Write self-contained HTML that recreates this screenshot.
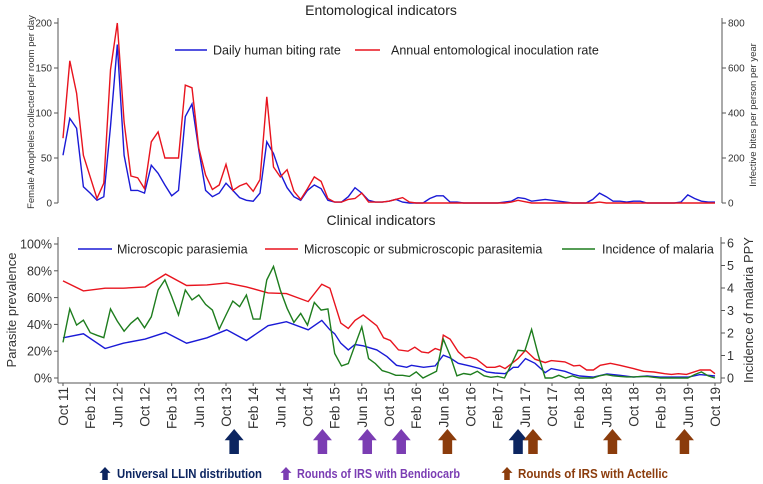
<!DOCTYPE html>
<html><head><meta charset="utf-8">
<style>
html,body{margin:0;padding:0;background:#fff;}
svg{display:block;font-family:"Liberation Sans",sans-serif;}
</style></head>
<body>
<svg id="chart" width="763" height="484" viewBox="0 0 763 484" xmlns="http://www.w3.org/2000/svg"></svg>
<script>
// ---- data ----
const xTickLabels = ["Oct 11","Feb 12","Jun 12","Oct 12","Feb 13","Jun 13","Oct 13","Feb 14","Jun 14","Oct 14","Feb 15","Jun 15","Oct 15","Feb 16","Jun 16","Oct 16","Feb 17","Jun 17","Oct 17","Feb 18","Jun 18","Oct 18","Feb 19","Jun 19","Oct 19"];
const hbr = [53,94,83,18,11,3,7,85,176,53,14,14,11,42,33,20,8,14,96,110,59,14,7,11,22,14,6,3,2,11,68,55,33,17,7,3,14,20,16,3,1,1,7,17,11,3,1,1,2,4,1,0,0,0,5,8,8,1,1,0,0,0,0,0,0,1,2,6,5,2,3,4,3,2,1,0,0,0,4,11,7,2,2,1,2,2,0,0,0,0,0,1,9,5,2,1,1];
const eir = [288,632,488,212,116,20,88,592,800,360,120,112,64,272,316,200,200,200,524,512,244,124,60,80,172,56,76,88,52,104,472,160,116,148,52,16,64,116,96,20,4,4,16,20,44,4,4,4,8,16,24,4,0,0,0,0,0,0,0,0,0,0,0,0,0,0,4,12,6,0,0,0,0,0,0,0,0,0,0,4,0,0,0,0,0,0,0,0,0,0,0,0,0,0,0,0,0];
const microMonths = [0,3,6.2,8.9,12.1,15.1,18.2,21.2,24.1,27,30.2,32.9,36.1,38.1,39.3,40,40.9,42,43,44.2,46.2,47.7,49.1,50.6,51.3,53.1,54.8,56,57,58.2,59.9,61.4,62.4,63.6,65.1,66.3,67,68.1,69.5,71,71.9,73.9,75.2,76.1,78.1,80.1,82,84,86,87.9,92.1,93.8,96];
const microPct = [30,33,22,26,29,34,26,30,36,28,39,42,36,43,36,33,26,21,25,24,21,16,9.5,8,9.5,8,9,17,15,11,9,7,4.5,3.7,3.2,8,8,14.5,11,4,7,5,2.5,1.5,0.7,3,2,0.7,1.5,0.7,0.7,2.5,1.5];
const subMonths = [0,3,6.2,8.9,12.1,15.1,18.2,21.2,24.1,27,30.2,32.9,36.1,38.1,39.3,40.9,42,43,44.2,46.2,47.2,48.2,49.4,50.8,51.8,52.8,53.8,54.8,55.6,56,57,58.2,59.2,59.9,60.9,62.4,63.6,64.3,65.1,67,68.1,69.5,71,71.9,73.9,75.2,76.1,77.1,78.1,79.1,80.6,82,84,85.5,87,88.6,89.6,90.6,91.8,93.8,95.3,96];
const subPct = [72.5,65,67,67,68,77.5,69,69.5,71,68,63.5,63,57,70,67,41,37,43,47,39,30,28,21,20,23,19.5,18.7,22,20.7,32,29,19.5,15,15.5,14,8,8,9,7,14.5,20.7,14,11.5,13,12,9,9.5,6,6,9.5,11,9.5,7,5,4.5,3.2,2.7,3.2,2.7,6,6,3.2];
const incidence = [1.58,3.07,2.35,2.57,2.02,1.9,1.79,3.07,2.53,2.08,2.43,2.68,2.23,2.72,3.91,4.36,3.62,2.8,3.91,3.47,3.69,3.27,3.02,2.17,2.8,3.42,3.17,3.69,2.62,2.62,4.36,4.96,3.91,3.1,2.47,2.87,2.35,3.36,3.02,3.07,1.09,0.54,0.64,1.46,2.28,0.86,0.64,0.33,0.24,0.12,0.12,0.07,0.27,0,0.15,0.3,1.73,1.0,0.1,0.2,0.15,0.3,0.1,0.03,0.07,0,0.6,1.23,1.2,2.16,1.0,0,0,0.12,0,0.1,0,0,0,0.1,0.15,0.1,0.07,0.05,0.05,0.06,0.07,0.03,0,0,0,0,0,0.15,0.27,0.1,0];
const llinMonths = [25.2,67];
const bendMonths = [38.2,44.8,49.8];
const actMonths = [56.6,69.2,80.9,91.5];

// ---- helpers ----
const svg = document.getElementById('chart');
const NS = 'http://www.w3.org/2000/svg';
function mk(tag, attrs, parent){const e=document.createElementNS(NS,tag);for(const k in attrs)e.setAttribute(k,attrs[k]);(parent||svg).appendChild(e);return e;}
function txt(s, attrs, parent){const e=mk('text',attrs,parent);e.textContent=s;return e;}
const xM = m => 63 + m*(715-63)/96;
const yTopL = v => 203 - v*0.9;
const yTopR = v => 203 - v*0.225;
const yBotL = p => 378 - p*1.34;
const yBotR = v => 378 - v*(135/6);
const GRAY = '#555';

// ---- titles ----
let t = txt('Entomological indicators',{x:381,y:15,'font-size':14,'text-anchor':'middle',fill:'#222'});
 
t = txt('Clinical indicators',{x:381,y:225,'font-size':14,'text-anchor':'middle',fill:'#222'});
 

// ---- top panel axes ----
const topAxes = mk('g',{});


mk('line',{x1:58,y1:18,x2:58,y2:203,stroke:GRAY,'stroke-width':1},topAxes);
mk('line',{x1:722,y1:18,x2:722,y2:203,stroke:GRAY,'stroke-width':1},topAxes);
[0,50,100,150,200].forEach(v=>{
  mk('line',{x1:54,x2:58,y1:yTopL(v),y2:yTopL(v),stroke:GRAY},topAxes);
  const e=txt(String(v),{x:52,y:yTopL(v)+3.5,'font-size':10,'text-anchor':'end',fill:'#333'},topAxes);
   
});
[0,200,400,600,800].forEach(v=>{
  mk('line',{x1:722,x2:726,y1:yTopR(v),y2:yTopR(v),stroke:GRAY},topAxes);
  const e=txt(String(v),{x:728,y:yTopR(v)+3.5,'font-size':10,fill:'#333'},topAxes);
   
});
t = txt('Female Anopheles collected per room per day',{x:0,y:0,'font-size':9.5,'text-anchor':'middle',fill:'#333',transform:'translate(34,112) rotate(-90)'});
 
t = txt('Infective bites per person per year',{x:0,y:0,'font-size':9.5,'text-anchor':'middle',fill:'#333',transform:'translate(756,115) rotate(-90)'});
 

function linePath(xs, ys){return xs.map((x,i)=>(i?'L':'M')+x.toFixed(1)+','+ys[i].toFixed(1)).join('');}
let p = mk('path',{d:linePath(hbr.map((v,i)=>xM(i)),hbr.map(yTopL)),fill:'none',stroke:'#1a1ad6','stroke-width':1.4});
 
p = mk('path',{d:linePath(eir.map((v,i)=>xM(i)),eir.map(yTopR)),fill:'none',stroke:'#e8141e','stroke-width':1.4});
 

// top legend
let lg = mk('g',{});
 
mk('line',{x1:175,x2:207,y1:50,y2:50,stroke:'#1a1ad6','stroke-width':1.5},lg);
txt('Daily human biting rate',{x:213,y:54.5,'font-size':12.5,fill:'#222'},lg);
mk('line',{x1:355,x2:380,y1:50,y2:50,stroke:'#e8141e','stroke-width':1.5},lg);
txt('Annual entomological inoculation rate',{x:391,y:54.5,'font-size':12.5,fill:'#222'},lg);

// ---- bottom panel axes ----
const botAxes = mk('g',{});


mk('line',{x1:58,y1:237,x2:58,y2:383,stroke:GRAY},botAxes);
mk('line',{x1:721,y1:237,x2:721,y2:383,stroke:GRAY},botAxes);
mk('line',{x1:58,y1:383,x2:721,y2:383,stroke:GRAY},botAxes);
[0,20,40,60,80,100].forEach(v=>{
  mk('line',{x1:54,x2:58,y1:yBotL(v),y2:yBotL(v),stroke:GRAY},botAxes);
  const e=txt(v+'%',{x:52,y:yBotL(v)+4.5,'font-size':12.5,'text-anchor':'end',fill:'#333'},botAxes);
   
});
[0,1,2,3,4,5,6].forEach(v=>{
  mk('line',{x1:721,x2:725,y1:yBotR(v),y2:yBotR(v),stroke:GRAY},botAxes);
  const e=txt(String(v),{x:727,y:yBotR(v)+4.5,'font-size':12.5,fill:'#333'},botAxes);
   
});
xTickLabels.forEach((s,i)=>{
  const x=xM(i*4);
  mk('line',{x1:x,x2:x,y1:383,y2:386,stroke:GRAY},botAxes);
  const e=txt(s,{x:0,y:0,'font-size':13.5,'text-anchor':'end',fill:'#333',transform:`translate(${x+5},${387}) rotate(-90)`},botAxes);
   
});
t = txt('Parasite prevalence',{x:0,y:0,'font-size':13,'text-anchor':'middle',fill:'#333',transform:'translate(16,310) rotate(-90)'});
 
t = txt('Incidence of malaria PPY',{x:0,y:0,'font-size':13,'text-anchor':'middle',fill:'#333',transform:'translate(753,310) rotate(-90)'});
 

p = mk('path',{d:linePath(subMonths.map(xM),subPct.map(yBotL)),fill:'none',stroke:'#e8141e','stroke-width':1.4});
 
p = mk('path',{d:linePath(microMonths.map(xM),microPct.map(yBotL)),fill:'none',stroke:'#1a1ad6','stroke-width':1.4});
 
p = mk('path',{d:linePath(incidence.map((v,i)=>xM(i)),incidence.map(yBotR)),fill:'none',stroke:'#1e7d1e','stroke-width':1.4});
 

lg = mk('g',{});
 
mk('line',{x1:78,x2:112,y1:249,y2:249,stroke:'#1a1ad6','stroke-width':1.5},lg);
txt('Microscopic parasiemia',{x:117,y:253.5,'font-size':12.5,fill:'#222'},lg);
mk('line',{x1:265,x2:298,y1:249,y2:249,stroke:'#e8141e','stroke-width':1.5},lg);
txt('Microscopic or submicroscopic parasitemia',{x:304,y:253.5,'font-size':12.5,fill:'#222'},lg);
mk('line',{x1:562,x2:595,y1:249,y2:249,stroke:'#1e7d1e','stroke-width':1.5},lg);
txt('Incidence of malaria',{x:602,y:253.5,'font-size':12.5,fill:'#222'},lg);

// ---- intervention arrows ----
function arrow(cx, top, h, w, color, parent){
  const hh=h*0.45, sw=w*0.5;
  return mk('path',{d:`M${cx},${top} L${cx+w/2},${top+hh} L${cx+sw/2},${top+hh} L${cx+sw/2},${top+h} L${cx-sw/2},${top+h} L${cx-sw/2},${top+hh} L${cx-w/2},${top+hh} Z`,fill:color},parent);
}
const NAVY='#0c2560', PURP='#7b3db3', BROWN='#8b3c0c';
[[llinMonths,NAVY,'llin-arrow'],[bendMonths,PURP,'bendiocarb-arrow'],[actMonths,BROWN,'actellic-arrow']].forEach(([arr,col,nm])=>{
  arr.forEach(m=>{
    const a=arrow(xM(m),429,25,19,col);
     
  });
});
lg = mk('g',{'font-weight':'bold','font-size':12.5});
 
arrow(105,467,13,11,NAVY,lg);
txt('Universal LLIN distribution',{x:117,y:478,fill:NAVY,textLength:145,lengthAdjust:'spacingAndGlyphs'},lg);
arrow(286,467,13,11,PURP,lg);
txt('Rounds of IRS with Bendiocarb',{x:297,y:478,fill:PURP,textLength:163,lengthAdjust:'spacingAndGlyphs'},lg);
arrow(507,467,13,11,BROWN,lg);
txt('Rounds of IRS with Actellic',{x:518,y:478,fill:BROWN,textLength:150,lengthAdjust:'spacingAndGlyphs'},lg);
</script>
</body></html>
